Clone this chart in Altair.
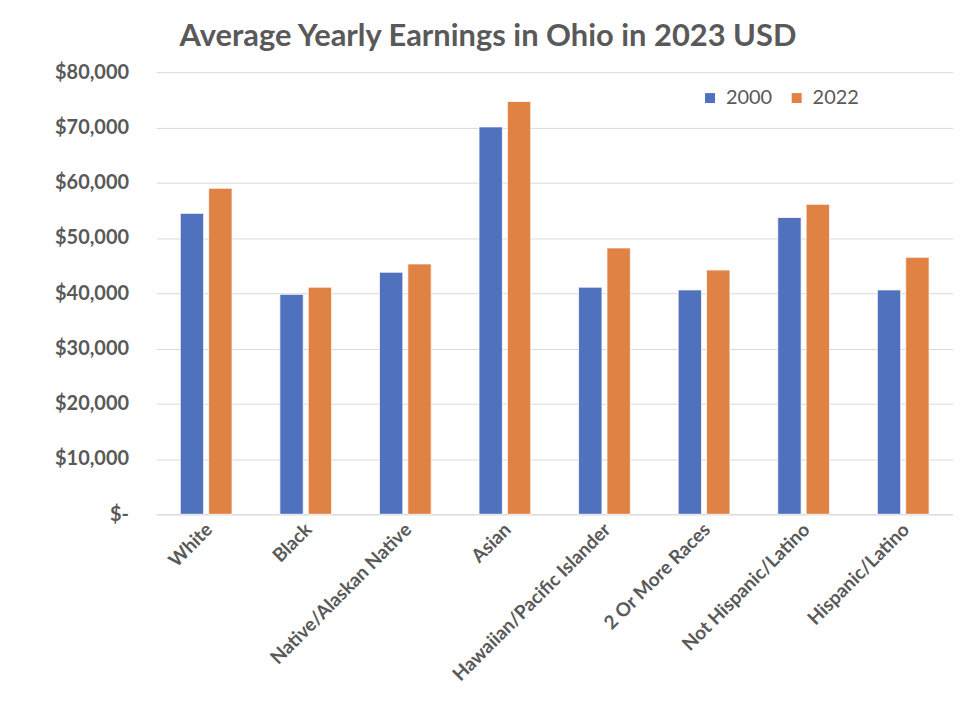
import altair as alt
import pandas as pd

categories = ["White", "Black", "Native/Alaskan Native", "Asian",
              "Hawaiian/Pacific Islander", "2 Or More Races",
              "Not Hispanic/Latino", "Hispanic/Latino"]
years = ["2000", "2022"]
earnings_2000 = [54450, 39800, 43800, 70100, 41100, 40600, 53700, 40600]
earnings_2022 = [59000, 41100, 45300, 74700, 48200, 44200, 56100, 46500]
y_ticks = [0, 10000, 20000, 30000, 40000, 50000, 60000, 70000, 80000]

rows = []
for c, a, b in zip(categories, earnings_2000, earnings_2022):
    rows.append({"Group": c, "Year": years[0], "Earnings": a})
    rows.append({"Group": c, "Year": years[1], "Earnings": b})
df = pd.DataFrame(rows)

FONT = "Lato"
GRAY = "#595959"

chart = alt.Chart(df).mark_bar(stroke="white", strokeWidth=0.8).encode(
    x=alt.X("Group:N", sort=categories,
            scale=alt.Scale(paddingInner=0.48, paddingOuter=0.24),
            axis=alt.Axis(title=None, labelAngle=-45, labelAlign="right",
                          labelBaseline="middle", labelPadding=12, labelOffset=3,
                          labelLimit=400,
                          labelFont=FONT, labelFontSize=19, labelFontWeight="bold",
                          labelColor=GRAY, ticks=False, domainColor="#d9d9d9",
                          grid=False)),
    xOffset=alt.XOffset("Year:N", scale=alt.Scale(paddingInner=0.175)),
    y=alt.Y("Earnings:Q",
            scale=alt.Scale(domain=[0, 80000], nice=False),
            axis=alt.Axis(title=None, values=y_ticks, domain=False, ticks=False,
                          labelPadding=28, labelFont=FONT, labelFontSize=20,
                          labelFontWeight="bold", labelColor=GRAY,
                          gridColor="#d9d9d9", gridWidth=1,
                          labelExpr="datum.value == 0 ? '$-' : '$' + format(datum.value, ',')")),
    color=alt.Color("Year:N",
                    scale=alt.Scale(domain=years, range=["#4F71BE", "#DF8244"]),
                    legend=alt.Legend(title=None, orient="none", legendX=546, legendY=16,
                                      direction="horizontal", symbolType="square",
                                      symbolSize=100, symbolStrokeWidth=0,
                                      labelFont=FONT, labelFontSize=20,
                                      labelColor=GRAY, columnPadding=14,
                                      labelOffset=6)),
).properties(
    width=800,
    height=444,
    title=alt.TitleParams("Average Yearly Earnings in Ohio in 2023 USD",
                          font=FONT, fontSize=31, fontWeight="bold", color=GRAY,
                          anchor="middle", dx=-67, offset=9),
    padding={"left": 46, "top": 12, "right": 0, "bottom": 0},
).configure_view(stroke=None)

chart.save("out.html", embed_options={"renderer": "svg", "actions": False})
